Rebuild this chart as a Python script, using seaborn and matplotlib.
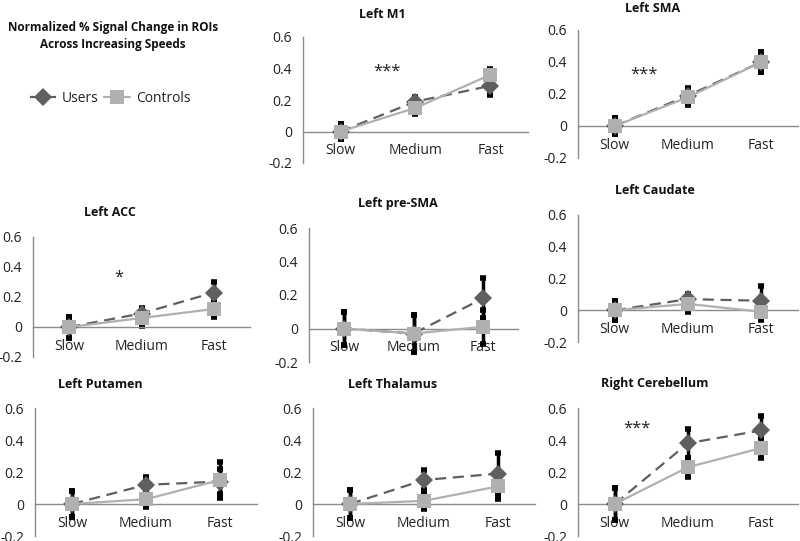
import numpy as np
import pandas as pd
import matplotlib
matplotlib.use("Agg")
import matplotlib.pyplot as plt
import seaborn as sns

sns.set_style("white")
plt.rcParams['font.family'] = ['Open Sans', 'DejaVu Sans']

# ---------------- data ----------------
speeds = ["Slow", "Medium", "Fast"]
groups = ["Users", "Controls"]
yticks = [-0.2, 0, 0.2, 0.4, 0.6]
ytick_labels = ["-0.2", "0", "0.2", "0.4", "0.6"]

titles = ["Left M1", "Left SMA", "Left ACC", "Left pre-SMA", "Left Caudate",
          "Left Putamen", "Left Thalamus", "Right Cerebellum"]

users_mean = {
    "Left M1": [0.0, 0.19, 0.29],
    "Left SMA": [0.0, 0.19, 0.40],
    "Left ACC": [0.0, 0.09, 0.23],
    "Left pre-SMA": [0.0, -0.03, 0.18],
    "Left Caudate": [0.0, 0.07, 0.06],
    "Left Putamen": [0.0, 0.12, 0.14],
    "Left Thalamus": [0.0, 0.15, 0.19],
    "Right Cerebellum": [0.0, 0.38, 0.46],
}
users_err = {
    "Left M1": [0.05, 0.03, 0.06],
    "Left SMA": [0.05, 0.05, 0.06],
    "Left ACC": [0.07, 0.04, 0.07],
    "Left pre-SMA": [0.10, 0.11, 0.12],
    "Left Caudate": [0.06, 0.03, 0.09],
    "Left Putamen": [0.08, 0.05, 0.08],
    "Left Thalamus": [0.09, 0.06, 0.13],
    "Right Cerebellum": [0.10, 0.09, 0.09],
}
controls_mean = {
    "Left M1": [0.0, 0.15, 0.36],
    "Left SMA": [0.0, 0.18, 0.40],
    "Left ACC": [0.0, 0.06, 0.12],
    "Left pre-SMA": [0.0, -0.03, 0.01],
    "Left Caudate": [0.0, 0.04, -0.01],
    "Left Putamen": [0.0, 0.03, 0.15],
    "Left Thalamus": [0.0, 0.02, 0.11],
    "Right Cerebellum": [0.0, 0.23, 0.35],
}
controls_err = {
    "Left M1": [0.05, 0.04, 0.04],
    "Left SMA": [0.05, 0.05, 0.06],
    "Left ACC": [0.07, 0.05, 0.05],
    "Left pre-SMA": [0.10, 0.11, 0.10],
    "Left Caudate": [0.06, 0.05, 0.05],
    "Left Putamen": [0.08, 0.05, 0.11],
    "Left Thalamus": [0.09, 0.05, 0.08],
    "Right Cerebellum": [0.10, 0.06, 0.06],
}
stars = {"Left M1": "***", "Left SMA": "***", "Left ACC": "*", "Right Cerebellum": "***"}
star_pos = {"Left M1": (0.62, 0.38), "Left SMA": (0.40, 0.32),
            "Left ACC": (0.68, 0.33), "Right Cerebellum": (0.30, 0.47)}

# ---------------- layout (pixels: left, right, top(0.6), bottom(-0.2)) ----------------
W, H = 800, 541
boxes = {
    "Left M1": (303, 528, 37, 163),
    "Left SMA": (578, 798, 30, 158),
    "Left ACC": (33, 250, 237, 357),
    "Left pre-SMA": (309, 518, 228, 362),
    "Left Caudate": (578, 798, 215, 342),
    "Left Putamen": (35, 257, 408, 536),
    "Left Thalamus": (313, 535, 408, 536),
    "Right Cerebellum": (578, 798, 408, 536),
}
title_pos = {
    "Left M1": (382, 15), "Left SMA": (653, 9), "Left ACC": (110, 213),
    "Left pre-SMA": (398, 204), "Left Caudate": (655, 191),
    "Left Putamen": (100, 384), "Left Thalamus": (393, 384),
    "Right Cerebellum": (655, 384),
}

c_users = "#5f5f5f"
c_controls = "#b0b0b0"
axis_col = "#8c8c8c"

fig = plt.figure(figsize=(8, 5.41), dpi=100)

handles = None
for t in titles:
    l, r, tp, b = boxes[t]
    ax = fig.add_axes([l / W, 1 - b / H, (r - l) / W, (b - tp) / H])
    df = pd.DataFrame({
        "x": list(range(3)) * 2,
        "value": users_mean[t] + controls_mean[t],
        "group": ["Users"] * 3 + ["Controls"] * 3,
    })
    x = np.arange(3)
    ax.errorbar(x, users_mean[t], yerr=users_err[t], fmt="none", ecolor="black",
                elinewidth=2.5, capsize=2.5, capthick=4, zorder=1)
    ax.errorbar(x, controls_mean[t], yerr=controls_err[t], fmt="none", ecolor="black",
                elinewidth=2.5, capsize=2.5, capthick=4, zorder=1)
    sns.lineplot(data=df, x="x", y="value", hue="group", style="group",
                 hue_order=groups, style_order=groups,
                 palette={"Users": c_users, "Controls": c_controls},
                 markers={"Users": "D", "Controls": "s"},
                 dashes={"Users": (5, 3), "Controls": ""},
                 markersize=9, markeredgewidth=0, linewidth=1.6,
                 ax=ax, legend=True, zorder=3)
    for line in ax.get_lines():
        if line.get_marker() == "s":
            line.set_markersize(10)
    h, lab = ax.get_legend_handles_labels()
    if handles is None:
        handles = (h, lab)
    ax.get_legend().remove()

    ax.set_xlim(-0.5, 2.5)
    ax.set_ylim(-0.2, 0.6)
    ax.set_yticks(yticks)
    ax.set_yticklabels(ytick_labels)
    ax.set_xticks(x)
    ax.set_xticklabels(speeds)
    ax.set_xticks([0.5, 1.5, 2.5], minor=True)
    ax.set_xlabel("")
    ax.set_ylabel("")
    for s in ["top", "right"]:
        ax.spines[s].set_visible(False)
    ax.spines["bottom"].set_position(("data", 0))
    ax.spines["bottom"].set_color(axis_col)
    ax.spines["left"].set_color(axis_col)
    ax.spines["bottom"].set_linewidth(1)
    ax.spines["left"].set_linewidth(1)
    ax.tick_params(axis="x", which="major", length=0, labelsize=10, colors="#222222", pad=8.5)
    ax.tick_params(axis="x", which="minor", length=4, color=axis_col, direction="out")
    ax.tick_params(axis="y", which="major", length=4, color=axis_col, direction="out",
                   labelsize=10, labelcolor="#222222", pad=4)
    ax.patch.set_alpha(0)

    if t in stars:
        sx, sy = star_pos[t]
        ax.text(sx, sy, stars[t], ha="center", va="center", fontsize=12, color="#222222")

    tx, ty = title_pos[t]
    fig.text(tx / W, 1 - ty / H, t, ha="center", va="center",
             fontsize=9, fontweight="bold", color="#111111")

fig.text(113 / W, 1 - 27 / H, "Normalized % Signal Change in ROIs", ha="center",
         va="center", fontsize=8.5, fontweight="bold", color="#111111")
fig.text(113 / W, 1 - 45 / H, "Across Increasing Speeds", ha="center",
         va="center", fontsize=8.5, fontweight="bold", color="#111111")

h, lab = handles
fig.legend(h, lab, loc="center left", bbox_to_anchor=(17 / W, 1 - 98 / H),
           ncol=2, frameon=False, fontsize=10, handlelength=1.9, columnspacing=0.4,
           handletextpad=0.4, labelcolor="#222222")

fig.savefig("out.png", dpi=100)
